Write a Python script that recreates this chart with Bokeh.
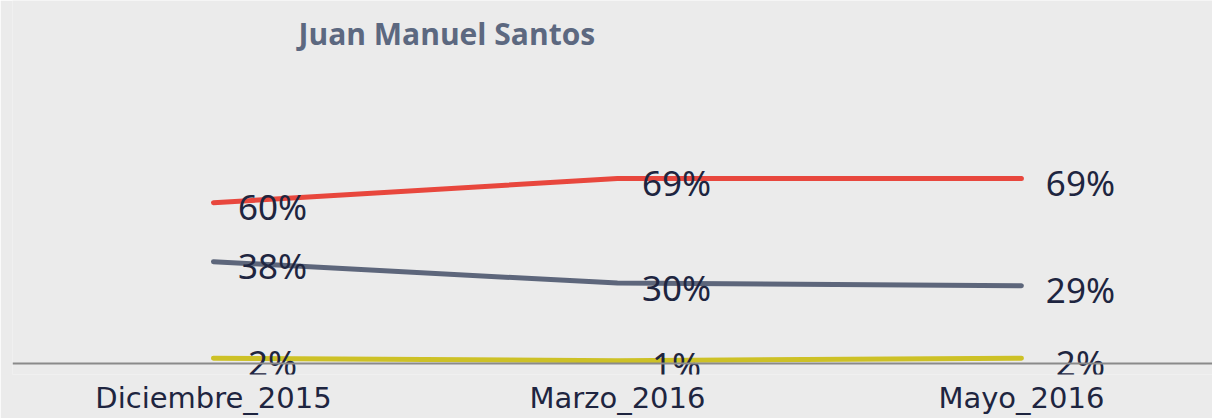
from bokeh.plotting import figure
from bokeh.models import Range1d, ColumnDataSource, FixedTicker, Span, Label
from bokeh.core.properties import value
from bokeh.embed import file_html
from bokeh.resources import INLINE

title_text = "Juan Manuel Santos"
categories = ["Diciembre_2015", "Marzo_2016", "Mayo_2016"]
desaprueba = [60, 69, 69]
aprueba = [38, 30, 29]
ns_nr = [2, 1, 2]

BG = "#ebebeb"
xs = list(range(len(categories)))
PX_PER_PCT = 2.68
BOTTOM = 44                   # axis panel size (px)
AXIS_Y = 363                  # page y of the 0% baseline
FRAME_BOTTOM = 418 - BOTTOM
FRAME_LEFT, FRAME_W = 12, 1200
X0, X1 = -0.4975, 2.473

p = figure(width=1212, height=418, output_backend="svg", toolbar_location=None,
           x_range=Range1d(X0, X1),
           y_range=Range1d(-(FRAME_BOTTOM - AXIS_Y) / PX_PER_PCT, AXIS_Y / PX_PER_PCT),
           min_border_left=FRAME_LEFT, min_border_right=0, min_border_top=0, min_border_bottom=BOTTOM,
           background_fill_color=BG, border_fill_color=BG, outline_line_color=None)

# title, placed at page x=298, baseline y=33
title_x = X0 + (298 - FRAME_LEFT) * (X1 - X0) / FRAME_W
title_y = (AXIS_Y - 33) / PX_PER_PCT
p.add_layout(Label(x=title_x, y=title_y, text=title_text, text_align="left",
                   text_baseline="alphabetic", text_font="Open Sans", text_font_style="bold",
                   text_font_size="30px", text_color="#5c6880"))

p.add_layout(Span(location=0, dimension="width", line_color="#8a8a8a", line_width=2))

series = [(desaprueba, "#e8473d"), (aprueba, "#5d667b"), (ns_nr, "#cdc126")]
for vals, col in series:
    src = ColumnDataSource(dict(x=xs, y=vals, t=[f"{v}%" for v in vals]))
    p.line("x", "y", source=src, line_color=col, line_width=5, line_cap="round")
    p.text("x", "y", text="t", source=src, x_offset=59, y_offset=4,
           text_align="center", text_baseline="middle",
           text_font=value("Noto Sans"), text_font_size="35px", text_color="#1e2540")

p.xgrid.visible = False
p.ygrid.visible = False
p.yaxis.visible = False
ax = p.xaxis[0]
ax.ticker = FixedTicker(ticks=xs)
ax.major_label_overrides = {i: c for i, c in enumerate(categories)}
ax.major_tick_line_color = None
ax.minor_tick_line_color = None
ax.axis_line_color = None
ax.major_label_text_font = "DejaVu Sans"
ax.major_label_text_font_size = "29px"
ax.major_label_text_color = "#1e2540"
ax.major_label_standoff = 0

open("out.html", "w").write(file_html(p, INLINE))
